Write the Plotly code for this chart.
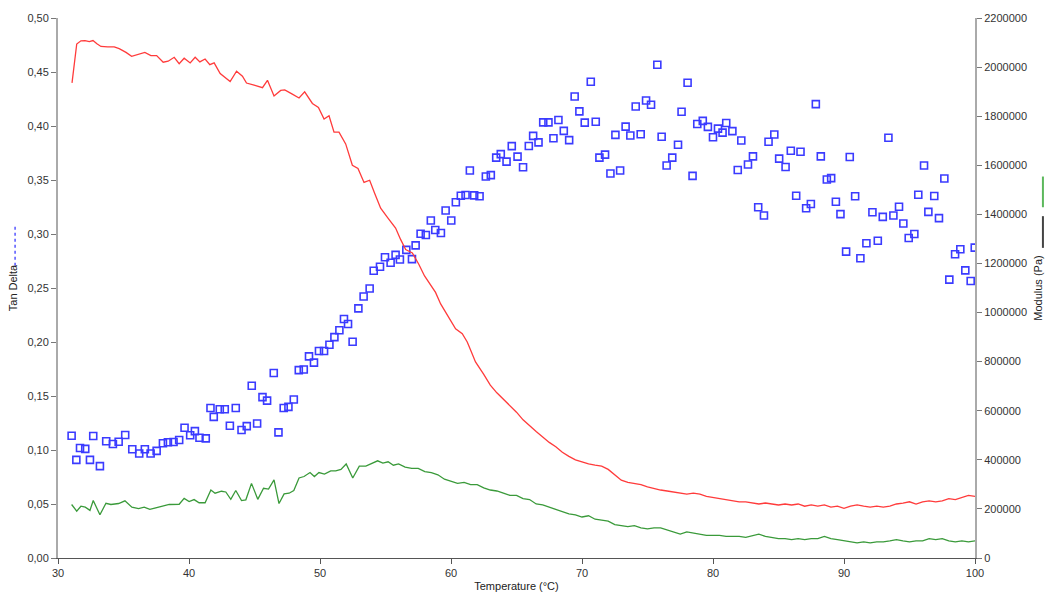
import plotly.graph_objects as go

# Tan delta (open squares, left axis)
tan_temp = [31.04, 31.40, 31.68, 32.08, 32.44, 32.69, 33.20, 33.68, 34.19, 34.63, 35.13, 35.67, 36.20, 36.63, 37.07,
            37.53, 38.01, 38.39, 38.82, 39.25, 39.66, 40.09, 40.45, 40.80, 41.28, 41.64, 41.89, 42.35, 42.73, 43.12,
            43.57, 44.01, 44.41, 44.79, 45.20, 45.61, 45.96, 46.47, 46.83, 47.23, 47.59, 48.00, 48.38, 48.76, 49.16,
            49.54, 49.92, 50.31, 50.72, 51.10, 51.48, 51.83, 52.14, 52.49, 52.93, 53.33, 53.79, 54.10, 54.58, 54.96,
            55.39, 55.77, 56.10, 56.59, 57.02, 57.30, 57.68, 58.08, 58.46, 58.80, 59.23, 59.59, 60.02, 60.37, 60.75,
            61.11, 61.44, 61.77, 62.18, 62.66, 63.04, 63.45, 63.80, 64.24, 64.64, 65.08, 65.50, 65.94, 66.27, 66.68,
            67.04, 67.44, 67.82, 68.20, 68.61, 69.02, 69.44, 69.80, 70.21, 70.67, 71.05, 71.33, 71.76, 72.17, 72.55,
            72.91, 73.33, 73.69, 74.10, 74.48, 74.89, 75.27, 75.75, 76.08, 76.46, 76.89, 77.33, 77.60, 78.06, 78.44,
            78.80, 79.22, 79.61, 80.00, 80.38, 80.73, 81.01, 81.48, 81.89, 82.16, 82.67, 83.05, 83.45, 83.89, 84.24,
            84.68, 85.05, 85.54, 85.94, 86.35, 86.68, 87.11, 87.47, 87.85, 88.23, 88.69, 89.02, 89.38, 89.73, 90.16,
            90.44, 90.85, 91.25, 91.71, 92.17, 92.58, 92.96, 93.39, 93.77, 94.20, 94.53, 94.94, 95.37, 95.67, 96.11,
            96.44, 96.89, 97.25, 97.66, 98.04, 98.48, 98.88, 99.26, 99.67, 99.98]
tan_delta = [0.1132, 0.0909, 0.1019, 0.1010, 0.0909, 0.1129, 0.0851, 0.1081, 0.1056, 0.1077, 0.1139, 0.1007, 0.0967,
             0.1007, 0.0967, 0.0992, 0.1062, 0.1072, 0.1074, 0.1093, 0.1206, 0.1136, 0.1175, 0.1114, 0.1108, 0.1389,
             0.1307, 0.1377, 0.1377, 0.1224, 0.1389, 0.1185, 0.1221, 0.1595, 0.1246, 0.1490, 0.1457, 0.1713, 0.1163,
             0.1389, 0.1399, 0.1467, 0.1740, 0.1745, 0.1867, 0.1809, 0.1916, 0.1916, 0.1974, 0.2045, 0.2109, 0.2213,
             0.2167, 0.2002, 0.2311, 0.2421, 0.2495, 0.2660, 0.2697, 0.2785, 0.2734, 0.2807, 0.2764, 0.2853, 0.2767,
             0.2895, 0.3003, 0.2991, 0.3125, 0.3037, 0.3009, 0.3217, 0.3125, 0.3294, 0.3354, 0.3361, 0.3588, 0.3358,
             0.3349, 0.3533, 0.3545, 0.3707, 0.3740, 0.3670, 0.3814, 0.3716, 0.3618, 0.3815, 0.3909, 0.3848, 0.4034,
             0.4034, 0.3887, 0.4056, 0.3955, 0.3869, 0.4273, 0.4135, 0.4031, 0.4410, 0.4040, 0.3707, 0.3735, 0.3560,
             0.3918, 0.3588, 0.3994, 0.3912, 0.4181, 0.3924, 0.4236, 0.4197, 0.4567, 0.3900, 0.3634, 0.3707, 0.3826,
             0.4132, 0.4401, 0.3538, 0.4019, 0.4047, 0.3992, 0.3896, 0.3976, 0.3939, 0.4028, 0.3953, 0.3593, 0.3866,
             0.3643, 0.3719, 0.3248, 0.3171, 0.3854, 0.3921, 0.3698, 0.3621, 0.3771, 0.3354, 0.3762, 0.3239, 0.3278,
             0.4203, 0.3719, 0.3505, 0.3517, 0.3299, 0.3184, 0.2837, 0.3713, 0.3349, 0.2776, 0.2914, 0.3202, 0.2938,
             0.3159, 0.3891, 0.3171, 0.3253, 0.3097, 0.2963, 0.3000, 0.3364, 0.3634, 0.3205, 0.3352, 0.3147, 0.3514,
             0.2578, 0.2813, 0.2859, 0.2663, 0.2565, 0.2874]

# Storage modulus (red, right axis)
storage_temp = [31.07, 31.43, 31.75, 32.06, 32.39, 32.67, 32.97, 33.28, 33.79, 34.29, 34.67, 35.19, 35.62, 36.08,
                36.63, 37.09, 37.53, 38.03, 38.41, 38.87, 39.25, 39.63, 40.09, 40.47, 40.83, 41.23, 41.59, 41.92,
                42.38, 43.14, 43.63, 44.08, 44.39, 44.97, 45.61, 45.99, 46.49, 47.00, 47.31, 47.82, 48.40, 48.83,
                49.42, 49.88, 50.31, 50.69, 51.07, 51.45, 51.96, 52.47, 52.90, 53.36, 53.79, 54.17, 54.63, 55.19,
                55.77, 56.16, 56.54, 57.05, 57.55, 57.98, 58.57, 58.82, 59.21, 59.72, 60.35, 60.86, 61.24, 61.55,
                61.87, 62.5, 63.0, 63.5, 64.0, 64.5, 65.0, 65.5, 66.0, 66.5, 67.0, 67.5, 68.0, 68.5, 69.0, 69.5,
                70.0, 70.5, 71.0, 71.5, 72.0, 72.5, 73.0, 73.5, 74.0, 74.5, 75.0, 75.5, 76.0, 76.5, 77.0, 77.5,
                78.0, 78.5, 79.0, 79.5, 80.0, 80.5, 81.0, 81.5, 82.0, 82.5, 83.0, 83.5, 84.0, 84.5, 85.0, 85.5,
                86.0, 86.5, 87.0, 87.5, 88.0, 88.5, 89.0, 89.5, 90.0, 90.5, 91.0, 91.5, 92.0, 92.5, 93.0, 93.5,
                94.0, 94.5, 95.0, 95.5, 96.0, 96.5, 97.0, 97.5, 98.0, 98.5, 99.0, 99.5, 100.0]
storage_mod = [1936000, 2094000, 2107000, 2108000, 2104000, 2108000, 2095000, 2084000, 2082000, 2082000, 2075000,
               2060000, 2044000, 2050000, 2060000, 2047000, 2047000, 2020000, 2024000, 2040000, 2014000, 2036000,
               2017000, 2040000, 2021000, 2033000, 2010000, 2017000, 1974000, 1941000, 1983000, 1963000, 1935000,
               1927000, 1916000, 1946000, 1882000, 1905000, 1907000, 1892000, 1874000, 1899000, 1852000, 1836000,
               1788000, 1802000, 1735000, 1735000, 1687000, 1600000, 1587000, 1530000, 1539000, 1486000, 1425000,
               1385000, 1344000, 1297000, 1257000, 1243000, 1196000, 1149000, 1099000, 1082000, 1035000, 988000,
               934000, 914000, 880000, 840000, 799000, 748000, 704000, 673000, 647000, 620000, 594000, 563000,
               537000, 515000, 493000, 471000, 453000, 431000, 414000, 400000, 392000, 383000, 378000, 374000,
               361000, 339000, 317000, 308000, 304000, 299000, 290000, 282000, 277000, 273000, 268000, 264000,
               260000, 264000, 260000, 251000, 246000, 242000, 238000, 233000, 229000, 229000, 224000, 220000,
               224000, 220000, 216000, 220000, 216000, 220000, 211000, 216000, 211000, 216000, 207000, 211000,
               202000, 211000, 216000, 211000, 207000, 211000, 207000, 211000, 220000, 224000, 229000, 220000,
               229000, 233000, 229000, 233000, 242000, 238000, 246000, 255000, 251000]

# Loss modulus (green, right axis)
loss_temp = [31.04, 31.43, 31.75, 32.08, 32.44, 32.69, 33.20, 33.66, 34.04, 34.63, 35.11, 35.64, 36.15, 36.58,
             37.01, 37.47, 37.98, 38.49, 39.25, 39.63, 40.01, 40.39, 40.77, 41.23, 41.67, 41.99, 42.48, 42.81,
             43.19, 43.57, 44.01, 44.34, 44.77, 45.25, 45.69, 46.07, 46.49, 46.87, 47.26, 47.64, 48.00, 48.40,
             48.78, 49.24, 49.57, 49.92, 50.34, 50.82, 51.20, 51.6, 52.0, 52.5, 53.0, 53.5, 54.0, 54.4, 54.8,
             55.2, 55.6, 56.0, 56.5, 57.0, 57.5, 58.0, 58.5, 59.0, 59.5, 60.0, 60.5, 61.0, 61.5, 62.0, 62.5,
             63.0, 63.5, 64.0, 64.5, 65.0, 65.5, 66.0, 66.5, 67.0, 67.5, 68.0, 68.5, 69.0, 69.5, 70.0, 70.5,
             71.0, 71.5, 72.0, 72.5, 73.0, 73.5, 74.0, 74.5, 75.0, 75.5, 76.0, 76.5, 77.0, 77.5, 78.0, 78.5,
             79.0, 79.5, 80.0, 80.5, 81.0, 81.5, 82.0, 82.5, 83.0, 83.5, 84.0, 84.5, 85.0, 85.5, 86.0, 86.5,
             87.0, 87.5, 88.0, 88.5, 89.0, 89.5, 90.0, 90.5, 91.0, 91.5, 92.0, 92.5, 93.0, 93.5, 94.0, 94.5,
             95.0, 95.5, 96.0, 96.5, 97.0, 97.5, 98.0, 98.5, 99.0, 99.5, 100.0]
loss_mod = [218000, 191000, 211000, 207000, 194000, 234000, 176000, 223000, 218000, 222000, 233000, 207000, 201000,
            207000, 198000, 203000, 211000, 218000, 219000, 243000, 230000, 238000, 225000, 225000, 277000, 264000,
            272000, 269000, 239000, 275000, 234000, 237000, 304000, 239000, 284000, 281000, 318000, 222000, 261000,
            264000, 275000, 326000, 332000, 348000, 332000, 348000, 342000, 355000, 355000, 361000, 383000, 326000,
            374000, 374000, 387000, 396000, 387000, 392000, 378000, 383000, 370000, 365000, 365000, 352000, 348000,
            339000, 321000, 312000, 304000, 308000, 299000, 299000, 286000, 277000, 273000, 264000, 255000, 255000,
            242000, 238000, 220000, 216000, 207000, 198000, 189000, 180000, 176000, 167000, 172000, 158000, 154000,
            150000, 136000, 132000, 128000, 132000, 123000, 119000, 123000, 123000, 114000, 106000, 97000, 106000,
            101000, 97000, 92000, 92000, 92000, 88000, 88000, 88000, 84000, 92000, 97000, 88000, 84000, 79000,
            79000, 75000, 79000, 75000, 79000, 79000, 88000, 79000, 75000, 70000, 66000, 62000, 66000, 62000,
            66000, 66000, 70000, 75000, 70000, 66000, 70000, 70000, 79000, 75000, 79000, 70000, 66000, 70000,
            66000, 70000]

FONT = "Liberation Sans, Arial, sans-serif"

fig = go.Figure()
fig.add_trace(go.Scatter(x=storage_temp, y=storage_mod, yaxis="y2", mode="lines",
                         line=dict(color="#ff3b3b", width=1.3), name="Storage modulus"))
fig.add_trace(go.Scatter(x=loss_temp, y=loss_mod, yaxis="y2", mode="lines",
                         line=dict(color="#3a9a3a", width=1.3), name="Loss modulus"))
fig.add_trace(go.Scatter(x=tan_temp, y=tan_delta, mode="markers",
                         marker=dict(symbol="square-open", size=7, color="#3b3bff",
                                     line=dict(width=1.6, color="#3b3bff")),
                         name="Tan Delta"))

axis_common = dict(showgrid=False, zeroline=False, ticks="outside", ticklen=5,
                   tickfont=dict(family=FONT, size=11, color="#333333"))

fig.update_layout(
    width=1056, height=603,
    margin=dict(l=57, r=81, t=13, b=45),
    paper_bgcolor="white", plot_bgcolor="white",
    showlegend=False,
    separators=",.",
    font=dict(family=FONT, size=11, color="#333333"),
    xaxis=dict(range=[30, 100], dtick=10, tick0=30, showline=True, linecolor="#555555", linewidth=1,
               tickcolor="#555555",
               title=dict(text="Temperature (°C)", font=dict(family=FONT, size=11, color="#222222"), standoff=4),
               **axis_common),
    yaxis=dict(range=[0, 0.5], dtick=0.05, tick0=0, tickformat=".2f", showline=True, linecolor="#aaaaaa",
               linewidth=2, tickcolor="#777777",
               title=dict(text="Tan Delta", font=dict(family=FONT, size=11, color="#222222"), standoff=8),
               **axis_common),
    yaxis2=dict(range=[0, 2200000], dtick=200000, tick0=0, tickformat="d", overlaying="y", side="right",
                showline=True, linecolor="#aaaaaa", linewidth=2, tickcolor="#777777",
                title=dict(text="Modulus (Pa)", font=dict(family=FONT, size=11, color="#222222"), standoff=8),
                **axis_common),
)

# Legend glyphs beside the axis titles
fig.add_shape(type="line", xref="paper", yref="paper", x0=-0.0468, x1=-0.0468,
              y0=(558 - 263) / 545, y1=(558 - 223) / 545, line=dict(color="#5555ff", width=1.5, dash="dot"))
fig.add_shape(type="line", xref="paper", yref="paper", x0=(1043 - 57) / 918, x1=(1043 - 57) / 918,
              y0=(558 - 204) / 545, y1=(558 - 173) / 545, line=dict(color="#5cb85c", width=2))
fig.add_shape(type="line", xref="paper", yref="paper", x0=(1043 - 57) / 918, x1=(1043 - 57) / 918,
              y0=(558 - 245) / 545, y1=(558 - 213) / 545, line=dict(color="#444444", width=2))

fig.write_html("out.html")
